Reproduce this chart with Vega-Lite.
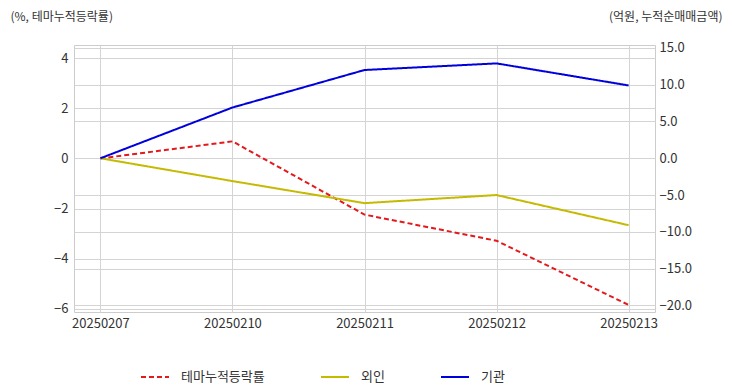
{
  "$schema": "https://vega.github.io/schema/vega-lite/v6.json",
  "width": 581,
  "height": 267,
  "autosize": "none",
  "padding": {"left": 74, "top": 45, "right": 77, "bottom": 80},
  "background": "white",
  "config": {
    "font": "Noto Sans CJK KR",
    "view": {"stroke": "#cccccc", "strokeWidth": 1},
    "axis": {"labelFont": "Noto Sans CJK KR", "labelFontSize": 13, "labelColor": "#333333", "gridColor": "#d4d4d4", "gridWidth": 1, "domain": false, "ticks": false, "titleFont": "Noto Sans CJK KR", "titleFontSize": 12, "titleFontWeight": "normal", "titleColor": "#333333"},
    "legend": {"labelFont": "Noto Sans CJK KR", "labelFontSize": 13, "labelColor": "#333333"}
  },
  "data": {
    "values": [
      {"date": "20250207", "series": "테마누적등락률", "value": 0},
      {"date": "20250210", "series": "테마누적등락률", "value": 0.68},
      {"date": "20250211", "series": "테마누적등락률", "value": -2.24},
      {"date": "20250212", "series": "테마누적등락률", "value": -3.28},
      {"date": "20250213", "series": "테마누적등락률", "value": -5.84},
      {"date": "20250207", "series": "외인", "value": 0},
      {"date": "20250210", "series": "외인", "value": -3.1},
      {"date": "20250211", "series": "외인", "value": -6.1},
      {"date": "20250212", "series": "외인", "value": -5.0},
      {"date": "20250213", "series": "외인", "value": -9.1},
      {"date": "20250207", "series": "기관", "value": 0},
      {"date": "20250210", "series": "기관", "value": 6.9},
      {"date": "20250211", "series": "기관", "value": 12.0},
      {"date": "20250212", "series": "기관", "value": 12.9},
      {"date": "20250213", "series": "기관", "value": 9.9}
    ]
  },
  "encoding": {
    "x": {"field": "date", "type": "ordinal", "scale": {"type": "point", "padding": 0.2}, "axis": {"title": null, "labelAngle": 0, "grid": true, "labelPadding": 5}},
    "color": {"field": "series", "type": "nominal", "scale": {"domain": ["테마누적등락률", "외인", "기관"], "range": ["#e3191c", "#c4ba00", "#0000dc"]}, "legend": {"title": null, "orient": "none", "direction": "horizontal", "legendX": 66, "legendY": 317, "padding": 0, "symbolType": "stroke", "symbolSize": 784, "symbolStrokeWidth": 2, "labelOffset": 11, "columnPadding": 52}},
    "strokeDash": {"field": "series", "type": "nominal", "scale": {"domain": ["테마누적등락률", "외인", "기관"], "range": [[5, 3], [1, 0], [1, 0]]}, "legend": null}
  },
  "layer": [
    {
      "transform": [{"filter": "datum.series === '테마누적등락률'"}],
      "mark": {"type": "line", "strokeWidth": 2},
      "encoding": {
        "y": {"field": "value", "type": "quantitative", "scale": {"domain": [-6.12, 4.52], "nice": false, "zero": false}, "axis": {"orient": "left", "grid": true, "values": [-6, -4, -2, 0, 2, 4], "labelPadding": 6, "title": "(%, 테마누적등락률)", "titleAngle": 0, "titleAlign": "left", "titleBaseline": "middle", "titleX": -64, "titleY": -29}}
      }
    },
    {
      "transform": [{"filter": "datum.series !== '테마누적등락률'"}],
      "mark": {"type": "line", "strokeWidth": 2},
      "encoding": {
        "y": {"field": "value", "type": "quantitative", "scale": {"domain": [-20.9, 15.4], "nice": false, "zero": false}, "axis": {"orient": "right", "grid": true, "values": [-20, -15, -10, -5, 0, 5, 10, 15], "format": ".1f", "labelPadding": 4, "title": "(억원, 누적순매매금액)", "titleAngle": 0, "titleAlign": "right", "titleBaseline": "middle", "titleX": 67, "titleY": -29}}
      }
    }
  ],
  "resolve": {"scale": {"y": "independent"}}
}
